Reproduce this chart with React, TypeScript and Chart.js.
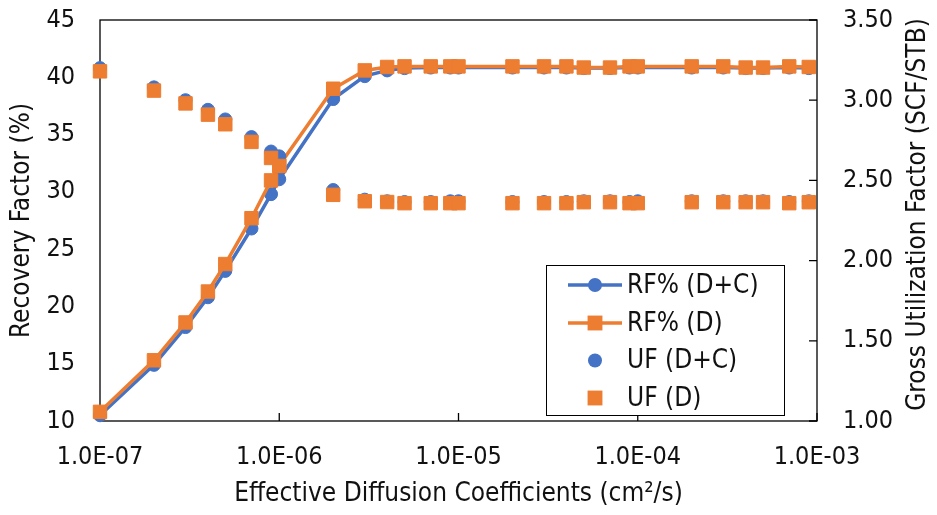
import { useEffect, useRef } from 'react';
import { Chart, registerables } from 'chart.js';

Chart.register(...registerables);

// Effective diffusion coefficient (cm²/s)
const diffusion = [
  1e-7, 2e-7, 3e-7, 4e-7, 5e-7, 7e-7, 9e-7, 1e-6,
  2e-6, 3e-6, 4e-6, 5e-6, 7e-6, 9e-6, 1e-5,
  2e-5, 3e-5, 4e-5, 5e-5, 7e-5, 9e-5, 1e-4,
  2e-4, 3e-4, 4e-4, 5e-4, 7e-4, 9e-4,
];

// Recovery factor (%) — diffusion + convection
const rfDC = [
  10.5, 14.9, 18.2, 20.8, 23.1, 26.8, 29.8, 31.1,
  38.1, 40.1, 40.6, 40.8, 40.85, 40.85, 40.85,
  40.85, 40.85, 40.85, 40.8, 40.8, 40.85, 40.85,
  40.85, 40.85, 40.8, 40.8, 40.85, 40.8,
];

// Recovery factor (%) — diffusion only
const rfD = [
  10.8, 15.3, 18.6, 21.3, 23.7, 27.7, 31.0, 32.3,
  39.0, 40.6, 40.9, 40.95, 40.95, 40.95, 40.95,
  40.95, 40.95, 40.95, 40.85, 40.85, 40.95, 40.95,
  40.95, 40.95, 40.85, 40.85, 40.95, 40.9,
];

// Gross utilization factor (SCF/STB) — diffusion + convection
const ufDC = [
  3.20, 3.08, 3.00, 2.94, 2.88, 2.77, 2.68, 2.65,
  2.44, 2.38, 2.37, 2.365, 2.365, 2.37, 2.37,
  2.365, 2.365, 2.365, 2.37, 2.37, 2.365, 2.37,
  2.37, 2.37, 2.37, 2.37, 2.365, 2.37,
];

// Gross utilization factor (SCF/STB) — diffusion only
const ufD = [
  3.18, 3.06, 2.98, 2.91, 2.85, 2.74, 2.64, 2.59,
  2.41, 2.37, 2.365, 2.358, 2.358, 2.358, 2.358,
  2.358, 2.358, 2.358, 2.364, 2.364, 2.358, 2.358,
  2.364, 2.364, 2.364, 2.364, 2.358, 2.364,
];

const xTickValues = [1e-7, 1e-6, 1e-5, 1e-4, 1e-3];
const xTickLabels = ['1.0E-07', '1.0E-06', '1.0E-05', '1.0E-04', '1.0E-03'];

const BLUE = '#4472C4';
const ORANGE = '#ED7D31';
const FONT = "'DejaVu Sans Condensed', 'DejaVu Sans', sans-serif";
const TEXT = '#111111';
const TICK_SIZE = 25;
const TITLE_SIZE = 26;

const pts = (ys: number[]) => diffusion.map((x, i) => ({ x, y: ys[i] }));

function drawMarker(ctx: CanvasRenderingContext2D, style: string, x: number, y: number, r: number, color: string) {
  ctx.fillStyle = color;
  ctx.beginPath();
  if (style === 'rect') {
    const s = r * Math.SQRT1_2;
    ctx.rect(x - s, y - s, 2 * s, 2 * s);
  } else {
    ctx.arc(x, y, r, 0, Math.PI * 2);
  }
  ctx.fill();
}

const framePlugin = {
  id: 'frame',
  beforeDatasetsDraw(chart: any) {
    const { ctx, chartArea: a, scales } = chart;
    ctx.save();
    ctx.strokeStyle = '#000';
    ctx.lineWidth = 1.3;
    ctx.strokeRect(a.left, a.top, a.right - a.left, a.bottom - a.top);
    ctx.beginPath();
    xTickValues.forEach((v) => {
      const px = scales.x.getPixelForValue(v);
      ctx.moveTo(px, a.bottom);
      ctx.lineTo(px, a.bottom - 8);
    });
    scales.y2.ticks.forEach((t: any) => {
      const py = scales.y2.getPixelForValue(t.value);
      ctx.moveTo(a.right, py);
      ctx.lineTo(a.right - 8, py);
    });
    ctx.stroke();
    ctx.restore();
  },
  afterDraw(chart: any) {
    const { ctx, chartArea: a } = chart;
    ctx.save();

    // Right axis title, reading bottom to top
    ctx.translate(918, (a.top + a.bottom) / 2 - 6);
    ctx.rotate(-Math.PI / 2);
    ctx.font = `${TITLE_SIZE}px ${FONT}`;
    ctx.fillStyle = TEXT;
    ctx.textAlign = 'center';
    ctx.textBaseline = 'middle';
    ctx.fillText('Gross Utilization Factor (SCF/STB)', 0, 0);
    ctx.restore();

    // Legend box
    ctx.save();
    const bx = 546.5, by = 265.5, bw = 238, bh = 150;
    ctx.fillStyle = '#fff';
    ctx.fillRect(bx, by, bw, bh);
    ctx.strokeStyle = '#000';
    ctx.lineWidth = 1;
    ctx.strokeRect(bx, by, bw, bh);
    const rowY = [285, 323, 360.5, 398];
    chart.data.datasets.forEach((ds: any, i: number) => {
      const y = rowY[i];
      if (ds.showLine !== false) {
        ctx.strokeStyle = ds.borderColor;
        ctx.lineWidth = ds.borderWidth;
        ctx.beginPath();
        ctx.moveTo(568, y);
        ctx.lineTo(622, y);
        ctx.stroke();
      }
      drawMarker(ctx, ds.pointStyle, 595, y, ds.pointStyle === 'rect' ? 10.5 : 7, ds.backgroundColor);
      ctx.fillStyle = TEXT;
      ctx.font = `${TITLE_SIZE}px ${FONT}`;
      ctx.textAlign = 'left';
      ctx.textBaseline = 'middle';
      ctx.fillText(ds.label, 627, y + 1);
    });
    ctx.restore();
  },
};

const noEdgePadding = (scale: any) => {
  scale.paddingTop = 0;
  scale.paddingBottom = 0;
  scale.paddingLeft = 0;
  scale.paddingRight = 0;
};

export default function App() {
  const canvasRef = useRef<HTMLCanvasElement | null>(null);

  useEffect(() => {
    if (!canvasRef.current) return;
    const lineCommon = {
      type: 'line' as const,
      clip: false as const,
      pointBorderWidth: 1,
    };
    const chart = new Chart(canvasRef.current, {
      type: 'line',
      data: {
        datasets: [
          {
            ...lineCommon,
            label: 'RF% (D+C)',
            data: pts(rfDC),
            yAxisID: 'y',
            borderColor: BLUE,
            backgroundColor: BLUE,
            pointBorderColor: BLUE,
            borderWidth: 3.5,
            pointStyle: 'circle',
            pointRadius: 6.5,
            order: 3,
          },
          {
            ...lineCommon,
            label: 'RF% (D)',
            data: pts(rfD),
            yAxisID: 'y',
            borderColor: ORANGE,
            backgroundColor: ORANGE,
            pointBorderColor: ORANGE,
            borderWidth: 3.5,
            pointStyle: 'rect',
            pointRadius: 9.5,
            order: 2,
          },
          {
            ...lineCommon,
            label: 'UF (D+C)',
            data: pts(ufDC),
            yAxisID: 'y2',
            showLine: false,
            borderColor: BLUE,
            backgroundColor: BLUE,
            pointBorderColor: BLUE,
            borderWidth: 3.5,
            pointStyle: 'circle',
            pointRadius: 6.5,
            order: 1,
          },
          {
            ...lineCommon,
            label: 'UF (D)',
            data: pts(ufD),
            yAxisID: 'y2',
            showLine: false,
            borderColor: ORANGE,
            backgroundColor: ORANGE,
            pointBorderColor: ORANGE,
            borderWidth: 3.5,
            pointStyle: 'rect',
            pointRadius: 9.5,
            order: 0,
          },
        ] as any,
      },
      options: {
        animation: false,
        responsive: true,
        maintainAspectRatio: false,
        layout: { padding: { top: 20, left: 0, right: 0, bottom: 0 } },
        plugins: { legend: { display: false }, tooltip: { enabled: false } },
        scales: {
          x: {
            type: 'logarithmic',
            min: 1e-7,
            max: 1e-3,
            grid: { display: false, drawTicks: false },
            border: { display: false },
            afterBuildTicks: (scale: any) => {
              scale.ticks = xTickValues.map((v) => ({ value: v }));
            },
            afterFit: (scale: any) => {
              scale.height = 94;
              noEdgePadding(scale);
            },
            ticks: {
              autoSkip: false,
              maxRotation: 0,
              padding: 21,
              color: TEXT,
              font: { family: FONT, size: TICK_SIZE },
              callback: (_v: any, i: number) => xTickLabels[i],
            },
            title: {
              display: true,
              text: 'Effective Diffusion Coefficients (cm²/s)',
              color: TEXT,
              font: { family: FONT, size: TITLE_SIZE },
              padding: { top: 0, bottom: 5 },
            },
          },
          y: {
            position: 'left',
            min: 10,
            max: 45,
            grid: { display: false, drawTicks: false },
            border: { display: false },
            afterFit: (scale: any) => {
              scale.width = 100;
              noEdgePadding(scale);
            },
            ticks: {
              stepSize: 5,
              padding: 25,
              color: TEXT,
              font: { family: FONT, size: TICK_SIZE },
            },
            title: {
              display: true,
              text: 'Recovery Factor (%)',
              color: TEXT,
              font: { family: FONT, size: TITLE_SIZE },
              padding: { top: 7, bottom: 0 },
            },
          },
          y2: {
            position: 'right',
            min: 1,
            max: 3.5,
            grid: { display: false, drawTicks: false },
            border: { display: false },
            afterFit: (scale: any) => {
              scale.width = 120;
              noEdgePadding(scale);
            },
            ticks: {
              stepSize: 0.5,
              padding: 26,
              color: TEXT,
              font: { family: FONT, size: TICK_SIZE },
              callback: (v: any) => Number(v).toFixed(2),
            },
          },
        },
      },
      plugins: [framePlugin],
    } as any);
    return () => chart.destroy();
  }, []);

  return (
    <div style={{ position: 'fixed', left: 0, top: 0, width: 937, height: 515, background: '#fff' }}>
      <canvas ref={canvasRef} />
    </div>
  );
}
